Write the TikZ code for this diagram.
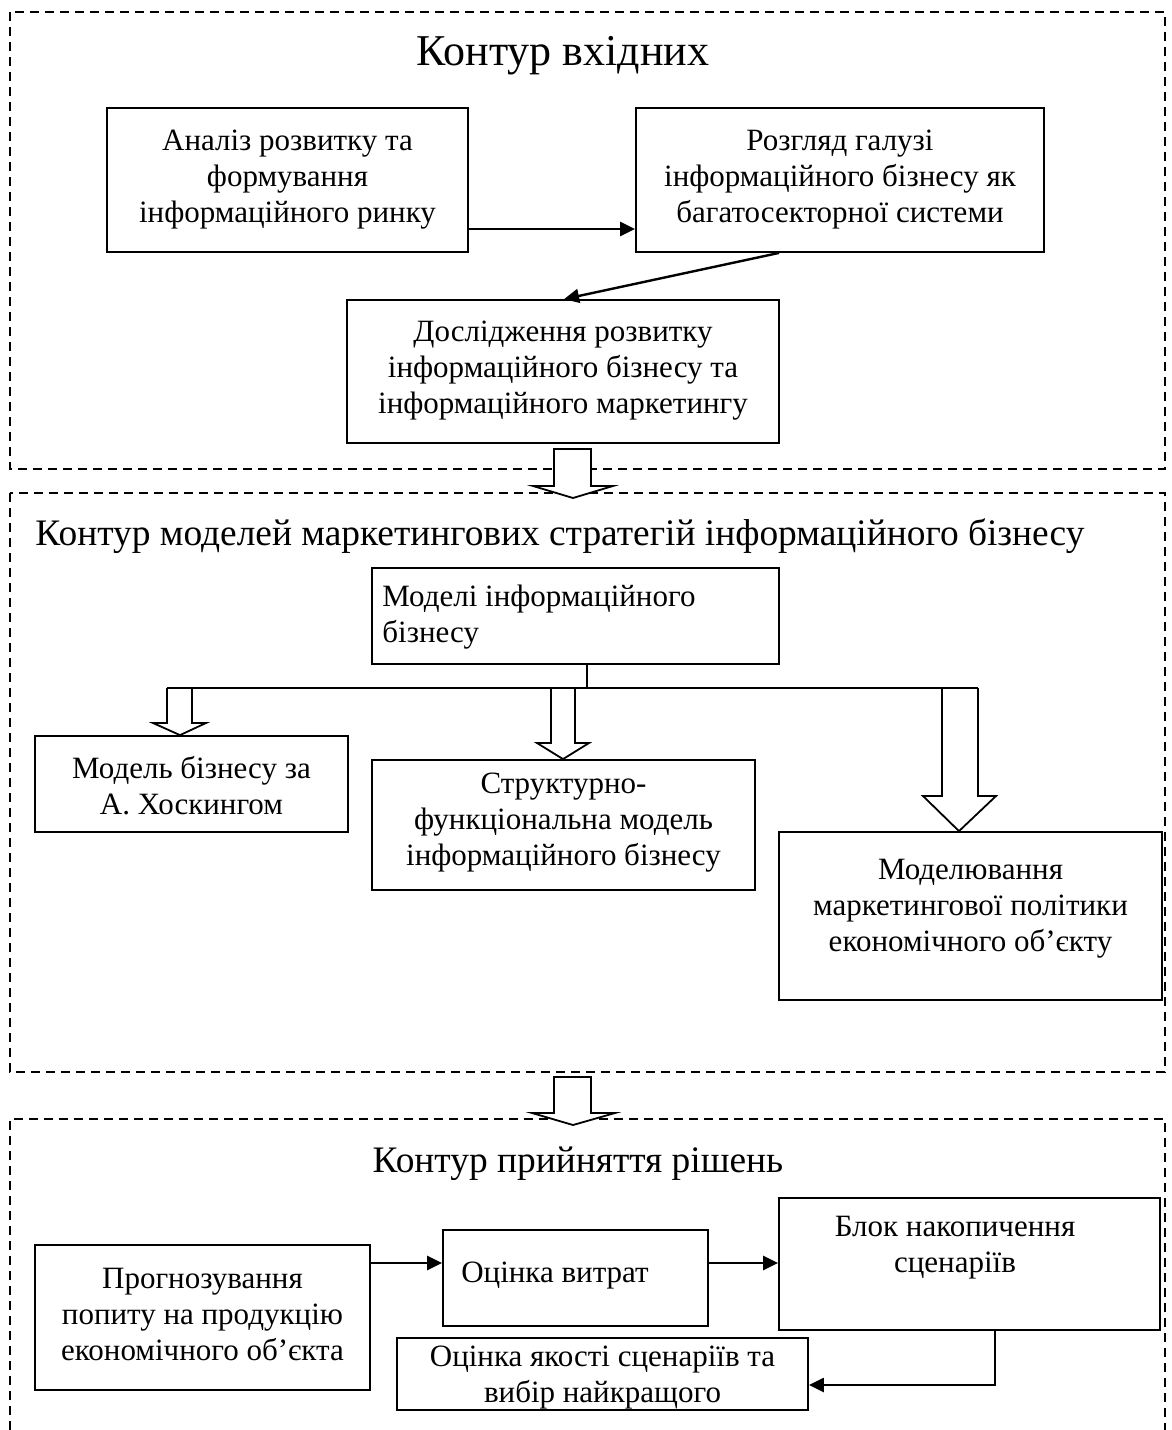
\documentclass[tikz,border=0pt]{standalone}
\usepackage{fontspec}
\setmainfont{Liberation Serif}
\usetikzlibrary{arrows.meta,calc}
\begin{document}
\begin{tikzpicture}[x=0.5pt,y=-0.5pt,
  frame/.style={draw, dash pattern=on 4.5pt off 3pt, line width=0.6pt},
  box/.style={draw, line width=0.9pt, inner sep=0pt},
  txt/.style={font=\fontsize{15.5}{18}\selectfont, align=center, inner sep=0pt},
  ttl/.style={font=\fontsize{18.7}{21}\selectfont, inner sep=0pt, anchor=base},
  arr/.style={line width=1.2pt, -{Triangle[length=7.5pt,width=7pt]}},
  hollow/.style={line width=0.9pt, fill=white, line join=miter},
  branch/.style={line width=0.9pt, line join=miter}]
\useasboundingbox (0,0) rectangle (1172,1430);

% frames
\draw[frame] (10,12) rectangle (1165,469);
\draw[frame] (10,493) rectangle (1165,1072);
\draw[frame] (10,1430) -- (10,1119) -- (1165,1119) -- (1165,1430);

% titles
\node[ttl, font=\fontsize{22}{25}\selectfont, anchor=base west] (t1) at (416,65) {Контур вхідних};
\node[ttl] (t2) at (560,545) {Контур моделей маркетингових стратегій інформаційного бізнесу};
\node[ttl] (t3) at (578,1172) {Контур прийняття рішень};

% top section
\node[box, minimum width=180.5pt, minimum height=72pt] (A) at (287.5,180) {};
\node[txt] (tA) at (287.5,180) {Аналіз розвитку та\\формування\\інформаційного ринку};
\node[box, minimum width=204pt, minimum height=72pt] (B) at (840,180) {};
\node[txt] (tB) at (840,180) {Розгляд галузі\\інформаційного бізнесу як\\багатосекторної системи};
\node[box, minimum width=216pt, minimum height=71.5pt] (C) at (563,371.5) {};
\node[txt] (tC) at (563,371) {Дослідження розвитку\\інформаційного бізнесу та\\інформаційного маркетингу};

\coordinate (yab) at (0,229);
\draw[arr] (A.east |- yab) -- (B.west |- yab);
\draw[arr] ($(B.south west)+(144,0)$) -- ($(C.north west)+(218,0)$);

% hollow arrow 1
\draw[hollow] (554,449) -- (554,486) -- (533,486) -- (573,498) -- (613,486) -- (591,486) -- (591,449) -- cycle;

% middle section
\node[box, minimum width=203.5pt, minimum height=48pt] (M) at (575.5,616) {};
\node[txt, align=left, anchor=west] (tM) at (382,617) {Моделі інформаційного\\бізнесу};
\node[box, minimum width=156.5pt, minimum height=48pt] (H) at (191.5,784) {};
\node[txt] (tH) at (191.5,786) {Модель бізнесу за\\А. Хоскингом};
\node[box, minimum width=191.5pt, minimum height=65pt] (S) at (563.5,825) {};
\node[txt] (tS) at (563.5,823) {Структурно-\\функціональна модель\\інформаційного бізнесу};
\node[box, minimum width=191.5pt, minimum height=84pt] (R) at (970.5,916) {};
\node[txt] (tR) at (970.5,909) {Моделювання\\маркетингової політики\\економічного об’єкту};

\coordinate (br) at (587,688);
\draw[branch] (M.south -| br) -- (br);
\draw[branch] (167,688) -- (978,688);
\draw[branch] (167,688) -- (167,723) -- (153,723) -- (H.north -| 180,0) -- (206,723) -- (192,723) -- (192,688);
\draw[branch] (551,688) -- (551,743) -- (537,743) -- (S.north -| 563,0) -- (589,743) -- (575,743) -- (575,688);
\draw[branch] (942,688) -- (942,796) -- (923,796) -- (R.north -| 959,0) -- (996,796) -- (978,796) -- (978,688);

% hollow arrow 2
\draw[hollow] (554,1077) -- (554,1113) -- (532,1113) -- (573,1125) -- (615,1113) -- (591,1113) -- (591,1077) -- cycle;

% bottom section
\node[box, minimum width=167.5pt, minimum height=72.5pt] (P) at (202.5,1317.5) {};
\node[txt] (tP) at (202.5,1314) {Прогнозування\\попиту на продукцію\\економічного об’єкта};
\node[box, minimum width=132.5pt, minimum height=48pt] (V) at (575.5,1278) {};
\node[txt] (tV) at (555,1276) {Оцінка витрат};
\node[box, minimum width=190.5pt, minimum height=66pt] (K) at (969.5,1264) {};
\node[txt] (tK) at (955,1248) {Блок накопичення\\сценаріїв};
\node[box, minimum width=205.5pt, minimum height=36pt] (Q) at (602.5,1374) {};
\node[txt] (tQ) at (602.5,1378) {Оцінка якості сценаріїв та\\вибір найкращого};

\coordinate (ypv) at (0,1263);
\draw[arr] (P.east |- ypv) -- (V.west |- ypv);
\draw[arr] (V.east |- ypv) -- (K.west |- ypv);
\coordinate (ret) at (995,1385);
\draw[arr] (K.south -| ret) -- (ret) -- (Q.east |- ret);
\end{tikzpicture}
\end{document}
